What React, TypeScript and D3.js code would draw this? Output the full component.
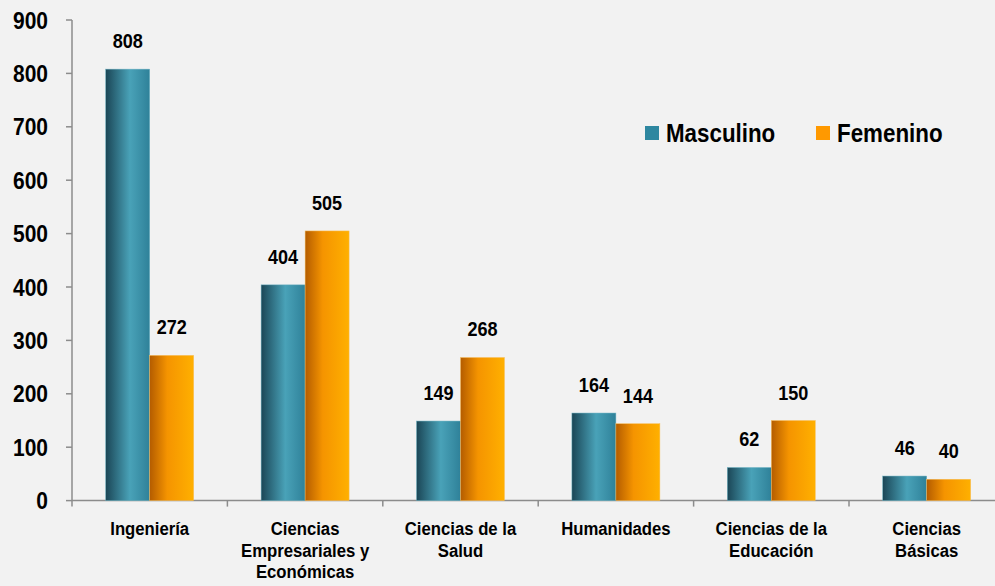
import React from "react";
import * as d3 from "d3";

const categories: string[][] = [
  ["Ingeniería"],
  ["Ciencias", "Empresariales y", "Económicas"],
  ["Ciencias de la", "Salud"],
  ["Humanidades"],
  ["Ciencias de la", "Educación"],
  ["Ciencias", "Básicas"],
];
const masculino = [808, 404, 149, 164, 62, 46];
const femenino = [272, 505, 268, 144, 150, 40];
const yTicks = [0, 100, 200, 300, 400, 500, 600, 700, 800, 900];
const seriesNames = ["Masculino", "Femenino"];

const W = 995;
const H = 586;
const x0 = 72;
const band = 155.4;
const y = d3.scaleLinear().domain([0, 900]).range([500.6, 20]);
const x = d3
  .scaleBand<number>()
  .domain(d3.range(6))
  .range([x0, x0 + band * 6])
  .paddingInner(0)
  .paddingOuter(0);
const font = "'Liberation Sans', Arial, sans-serif";

function NText(props: {
  x: number;
  y: number;
  size: number;
  sx?: number;
  anchor?: "start" | "middle" | "end";
  dy?: string;
  children: React.ReactNode;
}) {
  const sx = props.sx ?? 0.87;
  return (
    <text
      transform={`translate(${props.x},${props.y}) scale(${sx},1)`}
      textAnchor={props.anchor ?? "middle"}
      dy={props.dy}
      fontFamily={font}
      fontWeight="bold"
      fontSize={props.size}
      fill="#000"
    >
      {props.children}
    </text>
  );
}

export default function App() {
  const bw = 44;
  return (
    <svg
      width={W}
      height={H}
      style={{ position: "absolute", left: 0, top: 0, background: "#f2f2f2" }}
    >
      <defs>
        <linearGradient id="gM" x1="0" x2="1" y1="0" y2="0">
          <stop offset="0" stopColor="#1b4656" />
          <stop offset="0.55" stopColor="#49a2b8" />
          <stop offset="1" stopColor="#2f8199" />
        </linearGradient>
        <linearGradient id="gF" x1="0" x2="1" y1="0" y2="0">
          <stop offset="0" stopColor="#b45c00" />
          <stop offset="0.4" stopColor="#f59400" />
          <stop offset="1" stopColor="#ffb000" />
        </linearGradient>
      </defs>
      <rect x={0} y={0} width={W} height={H} fill="#f2f2f2" />
      {/* y axis */}
      <line x1={x0} x2={x0} y1={y(900)} y2={y(0)} stroke="#8c8c8c" strokeWidth={1.5} />
      {yTicks.map((t) => (
        <g key={t}>
          <line x1={x0 - 6} x2={x0} y1={y(t)} y2={y(t)} stroke="#8c8c8c" strokeWidth={1.5} />
          <NText x={48} y={y(t) + 8.5} size={24} sx={0.875} anchor="end">
            {t}
          </NText>
        </g>
      ))}
      {/* x axis */}
      <line x1={x0} x2={W} y1={y(0)} y2={y(0)} stroke="#8c8c8c" strokeWidth={1.5} />
      {d3.range(6).map((i) => (
        <line
          key={i}
          x1={x(i)!}
          x2={x(i)!}
          y1={y(0)}
          y2={y(0) + 6}
          stroke="#8c8c8c"
          strokeWidth={1.5}
        />
      ))}
      {categories.map((lines, i) => {
        const cx = x(i)! + x.bandwidth() / 2;
        const vals = [masculino[i], femenino[i]];
        return (
          <g key={i}>
            {vals.map((v, j) => {
              const bx = cx - bw + j * bw;
              return (
                <g key={j}>
                  <rect
                    x={bx}
                    y={y(v)}
                    width={bw}
                    height={y(0) - y(v)}
                    fill={j === 0 ? "url(#gM)" : "url(#gF)"}
                    stroke={j === 0 ? "#6fb3c4" : "#f7c060"}
                    strokeWidth={0.5}
                  />
                  <NText x={bx + bw / 2} y={y(v) - 21} size={21} sx={0.86}>
                    {v}
                  </NText>
                </g>
              );
            })}
            {lines.map((l, k) => (
              <NText key={k} x={cx} y={535 + k * 21.5} size={19} sx={0.88}>
                {l}
              </NText>
            ))}
          </g>
        );
      })}
      {/* legend */}
      {seriesNames.map((s, i) => (
        <g key={s} transform={`translate(${645 + i * 171},0)`}>
          <rect x={0} y={126} width={14} height={14} fill={i === 0 ? "#2e87a0" : "#ff9900"} />
          <NText x={21} y={142} size={26} sx={0.86} anchor="start">
            {s}
          </NText>
        </g>
      ))}
    </svg>
  );
}
